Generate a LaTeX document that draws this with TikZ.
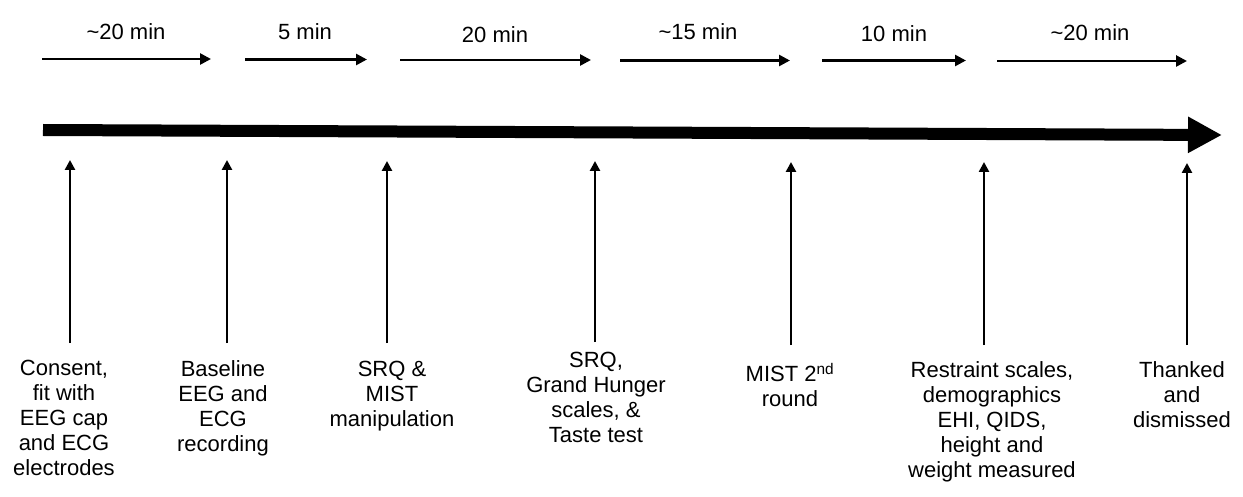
\documentclass[tikz,border=0pt]{standalone}
\usepackage{fontspec}
\setmainfont{Liberation Sans}
\usetikzlibrary{arrows.meta}
\begin{document}
\begin{tikzpicture}[x=1pt,y=-1pt,
  dur/.style={draw, line width=2.6pt, -{Triangle[length=11pt,width=11pt]}},
  durlabel/.style={anchor=base, inner sep=0pt, font=\fontsize{22}{25}\selectfont},
  timeline/.style={draw, line width=12pt, -{Triangle[length=34pt,width=34pt]}},
  marker/.style={draw, line width=2.5pt, -{Triangle[length=10pt,width=10pt]}},
  stepbox/.style={anchor=north, align=center, inner sep=0pt, font=\fontsize{22}{25}\selectfont}]
\useasboundingbox (0,0) rectangle (1243,497);

% durations above the timeline
\coordinate (d1a) at (42,59);   \coordinate (d1b) at (211,59);
\coordinate (d2a) at (245,59.5); \coordinate (d2b) at (367,59.5);
\coordinate (d3a) at (400,60);  \coordinate (d3b) at (591,60);
\coordinate (d4a) at (620,60.5); \coordinate (d4b) at (790,60.5);
\coordinate (d5a) at (822,60.5); \coordinate (d5b) at (966,60.5);
\coordinate (d6a) at (997,61);  \coordinate (d6b) at (1187,61);
\foreach \i in {1,...,6} \draw[dur] (d\i a) -- (d\i b);

\node[durlabel] (l1) at (126,40) {\textasciitilde 20 min};
\node[durlabel] (l2) at (305,40) {5 min};
\node[durlabel] (l3) at (495,43) {20 min};
\node[durlabel] (l4) at (698,40) {\textasciitilde 15 min};
\node[durlabel] (l5) at (894,42) {10 min};
\node[durlabel] (l6) at (1090,41) {\textasciitilde 20 min};

% main timeline
\coordinate (tstart) at (43,130);
\coordinate (tend) at (1222,135);
\draw[timeline] (tstart) -- (tend);

% steps below the timeline
\node[stepbox] (s1) at (64,360) {Consent,\\fit with\\EEG cap\\and ECG\\electrodes};
\node[stepbox] (s2) at (223,360) {Baseline\\EEG and\\ECG\\recording};
\node[stepbox] (s3) at (392,361) {SRQ \&\\MIST\\manipulation};
\node[stepbox] (s4) at (596,352) {SRQ,\\Grand Hunger\\scales, \&\\Taste test};
\node[stepbox] (s5) at (790,363) {MIST 2\textsuperscript{nd}\\round};
\node[stepbox] (s6) at (992,361) {Restraint scales,\\demographics\\EHI, QIDS,\\height and\\weight measured};
\node[stepbox] (s7) at (1182,361) {Thanked\\and\\dismissed};

% markers pointing up to the timeline
\coordinate (m1a) at (70,343);   \coordinate (m1b) at (70,160);
\coordinate (m2a) at (227,343);  \coordinate (m2b) at (227,160);
\coordinate (m3a) at (387,343);  \coordinate (m3b) at (387,161);
\coordinate (m4a) at (595,342);  \coordinate (m4b) at (595,161);
\coordinate (m5a) at (791,345);  \coordinate (m5b) at (791,162);
\coordinate (m6a) at (984,345);  \coordinate (m6b) at (984,162);
\coordinate (m7a) at (1187,345); \coordinate (m7b) at (1187,163);
\foreach \i in {1,...,7} \draw[marker] (m\i a) -- (m\i b);
\end{tikzpicture}
\end{document}
